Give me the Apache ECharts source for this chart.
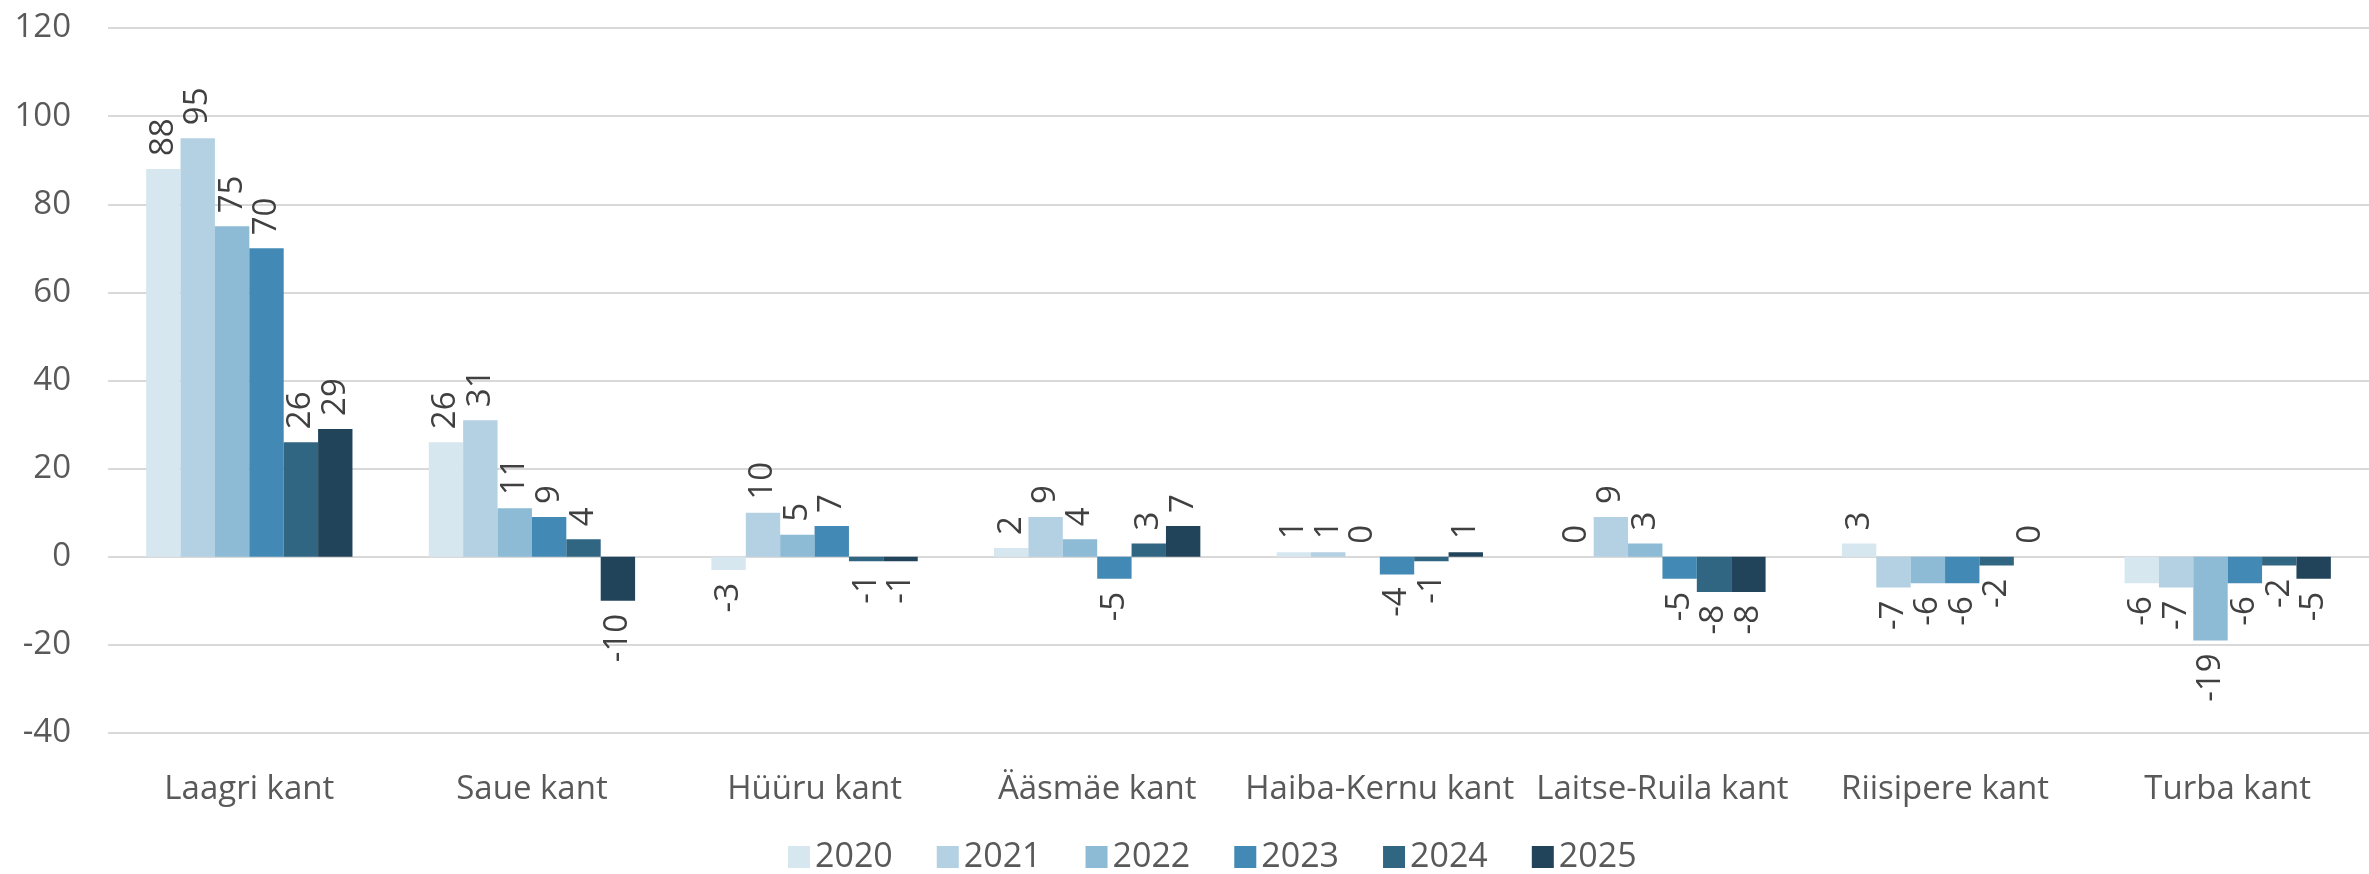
<!DOCTYPE html>
<html>
<head>
<meta charset="utf-8">
<script src="https://cdn.jsdelivr.net/npm/echarts@6/dist/echarts.min.js"></script>
<style>
  html, body { margin: 0; padding: 0; background: #fff; }
  #chart { width: 2369px; height: 874px; }
</style>
</head>
<body>
<div id="chart"></div>
<script>
var kandid = ['Laagri kant', 'Saue kant', 'Hüüru kant', 'Ääsmäe kant', 'Haiba-Kernu kant', 'Laitse-Ruila kant', 'Riisipere kant', 'Turba kant'];
var aastad = ['2020', '2021', '2022', '2023', '2024', '2025'];
var v2020 = [88, 26, -3, 2, 1, 0, 3, -6];
var v2021 = [95, 31, 10, 9, 1, 9, -7, -7];
var v2022 = [75, 11, 5, 4, 0, 3, -6, -19];
var v2023 = [70, 9, 7, -5, -4, -5, -6, -6];
var v2024 = [26, 4, -1, 3, -1, -8, -2, -2];
var v2025 = [29, -10, -1, 7, 1, -8, 0, -5];
var varvid = ['#d6e7f0', '#b3d1e3', '#8dbad5', '#428ab5', '#306682', '#21445b'];

var koik = [v2020, v2021, v2022, v2023, v2024, v2025];
var fontFam = '"Open Sans", Lato, sans-serif';

var series = [];
for (var i = 0; i < aastad.length; i++) {
    var d = [];
    for (var j = 0; j < koik[i].length; j++) {
        var v = koik[i][j];
        // negatiivsed sildid tulba alla, positiivsed peale
        d.push({
            value: v,
            label: {
                position: v < 0 ? 'bottom' : 'top',
                align: v < 0 ? 'right' : 'left'
            }
        });
    }
    series.push({
        name: aastad[i],
        type: 'bar',
        barGap: 0,
        barCategoryGap: '27%',
        itemStyle: { color: varvid[i] },
        label: {
            show: true,
            rotate: 90,
            distance: 13,
            verticalAlign: 'middle',
            color: '#404040',
            fontSize: 33,
            fontFamily: fontFam
        },
        data: d
    });
}

var chart = echarts.init(document.getElementById('chart'));
chart.setOption({
    animation: false,
    textStyle: { fontFamily: fontFam },
    legend: {
        left: 783,
        top: 835,
        itemWidth: 22,
        itemHeight: 22,
        itemGap: 44,
        icon: 'rect',
        textStyle: { fontSize: 34, color: '#595959' },
        data: aastad
    },
    grid: {
        left: 108,
        right: 0,
        top: 28,
        bottom: 141
    },
    xAxis: {
        type: 'category',
        data: kandid,
        axisLine: { show: false, onZero: false },
        axisTick: { show: false },
        axisLabel: {
            interval: 0,
            margin: 40,
            fontSize: 33,
            color: '#595959'
        }
    },
    yAxis: {
        type: 'value',
        min: -40,
        max: 120,
        interval: 20,
        axisLine: { show: false },
        axisTick: { show: false },
        axisLabel: {
            margin: 37,
            fontSize: 33,
            color: '#595959'
        },
        splitLine: { lineStyle: { color: '#d9d9d9', width: 2 } }
    },
    series: series
});
</script>
</body>
</html>
